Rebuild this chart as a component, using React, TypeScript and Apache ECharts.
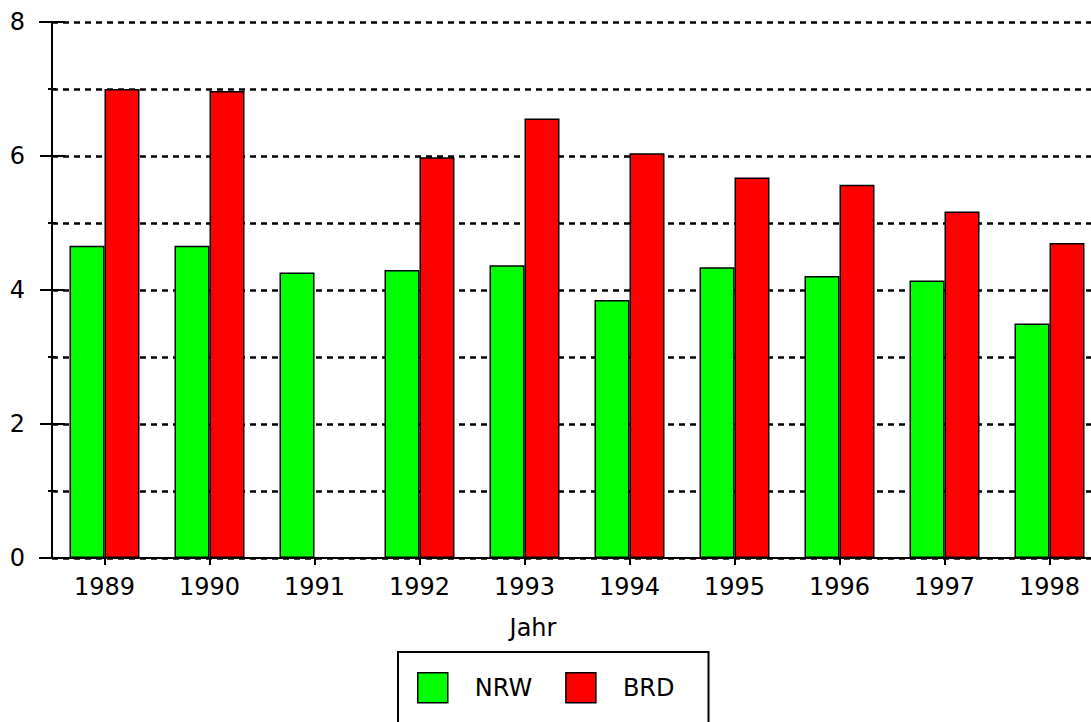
import React, { useEffect, useRef } from "react";
import * as echarts from "echarts";

const years = ["1989", "1990", "1991", "1992", "1993", "1994", "1995", "1996", "1997", "1998"];
const nrw = [4.66, 4.66, 4.26, 4.3, 4.37, 3.85, 4.34, 4.21, 4.14, 3.5];
const brd: (number | null)[] = [7.0, 6.97, null, 5.98, 6.56, 6.04, 5.68, 5.57, 5.17, 4.7];
const seriesNames = ["NRW", "BRD"];
const yMin = 0;
const yMax = 8;
const yInterval = 2;

const FONT = "DejaVu Sans";

export default function App() {
  const ref = useRef<HTMLDivElement>(null);
  useEffect(() => {
    document.body.style.margin = "0";
    if (!ref.current) return;
    const chart = echarts.init(ref.current, null, { renderer: "svg" });
    const gridLeft = 52;
    const gridTop = 22;
    const gridHeight = 536;
    const gridWidth = 1050;
    const dashed = { type: [6, 5] as any, color: "#000", width: 2.5 };
    chart.setOption({
      animation: false,
      backgroundColor: "#fff",
      grid: {
        left: gridLeft,
        top: gridTop,
        width: gridWidth,
        height: gridHeight,
        containLabel: false,
        outerBoundsMode: "none",
      },
      legend: {
        data: seriesNames,
        left: 398,
        top: 652,
        orient: "horizontal",
        icon: "rect",
        itemWidth: 30,
        itemHeight: 30,
        itemGap: 33,
        padding: [20, 34, 40, 19],
        borderColor: "#000",
        borderWidth: 2,
        backgroundColor: "#fff",
        itemStyle: { borderColor: "#000", borderWidth: 1.5 },
        textStyle: {
          fontFamily: FONT,
          fontSize: 24,
          color: "#000",
          padding: [0, 0, 0, 22],
        },
      },
      xAxis: [
        {
          type: "category",
          data: years,
          position: "bottom",
          boundaryGap: true,
          axisLine: { show: true, lineStyle: { color: "#000", width: 2 } },
          axisTick: { show: true, alignWithLabel: true, length: 7, lineStyle: { color: "#000", width: 2 } },
          axisLabel: { fontFamily: FONT, fontSize: 24, color: "#000", margin: 17 },
          splitLine: { show: false },
          name: "Jahr",
          nameLocation: "middle",
          nameGap: 58,
          nameTextStyle: { fontFamily: FONT, fontSize: 24, color: "#000", padding: [0, 88, 0, 0] },
        },
        {
          type: "category",
          data: years,
          position: "top",
          axisLine: { show: true, lineStyle: { color: "#000", width: 2 } },
          axisTick: { show: false },
          axisLabel: { show: false },
          splitLine: { show: false },
        },
      ],
      yAxis: [
        {
          type: "value",
          position: "left",
          min: yMin,
          max: yMax,
          interval: yInterval,
          axisLine: { show: true, lineStyle: { color: "#000", width: 2 } },
          axisTick: { show: true, inside: false, length: 12, lineStyle: { color: "#000", width: 2 } },
          minorTick: { show: true, splitNumber: 2, length: 4, lineStyle: { color: "#000", width: 2 } },
          axisLabel: { fontFamily: FONT, fontSize: 24, color: "#000", margin: 27 },
          splitLine: { show: true, lineStyle: dashed },
          minorSplitLine: { show: true, lineStyle: dashed },
        },
        {
          type: "value",
          position: "left",
          min: yMin,
          max: yMax,
          interval: yInterval,
          axisLine: { show: false },
          axisTick: { show: true, inside: true, length: 13, lineStyle: { color: "#000", width: 2 } },
          minorTick: { show: true, splitNumber: 2, length: 4, lineStyle: { color: "#000", width: 2 } },
          axisLabel: { show: false },
          splitLine: { show: false },
          minorSplitLine: { show: false },
        },
      ],
      series: [
        {
          name: seriesNames[0],
          type: "bar",
          data: nrw,
          barWidth: 35,
          barGap: "0%",
          itemStyle: { color: "#00ff00", borderColor: "#000", borderWidth: 1.5 },
          z: 3,
        },
        {
          name: seriesNames[1],
          type: "bar",
          data: brd,
          barWidth: 35,
          barGap: "0%",
          itemStyle: { color: "#ff0000", borderColor: "#000", borderWidth: 1.5 },
          z: 3,
        },
      ],
    });
    const y0 = chart.convertToPixel({ yAxisIndex: 0 }, yMin) as number;
    const y8 = chart.convertToPixel({ yAxisIndex: 0 }, yMax) as number;
    chart.setOption({
      graphic: [
        {
          type: "line",
          shape: { x1: gridLeft - 13, y1: y0, x2: gridLeft, y2: y0 },
          style: { stroke: "#000", lineWidth: 2 },
        },
        {
          type: "line",
          shape: { x1: gridLeft - 13, y1: y8, x2: gridLeft, y2: y8 },
          style: { stroke: "#000", lineWidth: 2 },
        },
      ],
    });
    return () => chart.dispose();
  }, []);
  return <div ref={ref} style={{ width: 1091, height: 722 }} />;
}
